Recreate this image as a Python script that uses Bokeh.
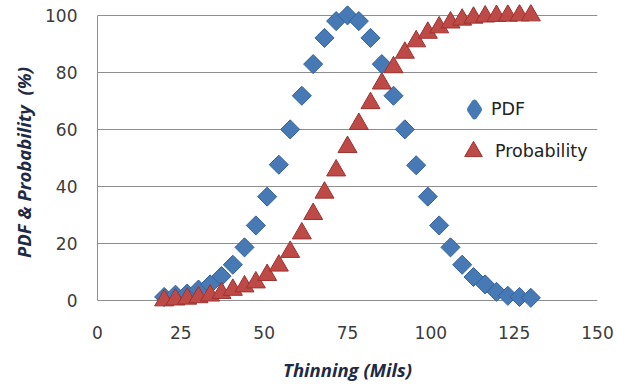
import math
from bokeh.plotting import figure
from bokeh.models import Range1d, FixedTicker, Legend, LegendItem
from bokeh.embed import file_html
from bokeh.resources import INLINE

# ---- data ----
thinning = [20.0, 23.4, 26.9, 30.3, 33.8, 37.2, 40.6, 44.1, 47.5, 50.9, 54.4,
            57.8, 61.3, 64.7, 68.1, 71.6, 75.0, 78.4, 81.9, 85.3, 88.8, 92.2,
            95.6, 99.1, 102.5, 105.9, 109.4, 112.8, 116.3, 119.7, 123.1, 126.6, 130.0]
pdf = [1.2, 2.0, 2.4, 3.8, 5.6, 8.5, 12.5, 18.6, 26.3, 36.4, 47.6,
       60.0, 71.8, 82.9, 92.1, 98.0, 100.0, 98.0, 92.1, 82.9, 71.8, 60.0,
       47.4, 36.4, 26.3, 18.6, 12.5, 8.2, 5.6, 3.0, 1.6, 1.2, 0.9]
probability = [0.0, 0.3, 0.6, 1.1, 1.7, 2.6, 3.7, 4.9, 6.3, 8.9, 12.2,
               17.0, 23.5, 30.3, 37.8, 45.6, 53.8, 61.9, 69.2, 76.1, 81.8, 86.9,
               90.9, 93.9, 95.8, 97.5, 98.5, 99.2, 99.6, 99.8, 99.9, 100.0, 100.0]
x_ticks = [0, 25, 50, 75, 100, 125, 150]
y_ticks = [0, 20, 40, 60, 80, 100]
series_names = ["PDF", "Probability"]

GRID = "#8e8e8e"
TICK_FONT = "DejaVu Sans"
TITLE_FONT = "Open Sans"
TITLE_COLOR = "#1f2a44"
BLUE = "#4779b5"
BLUE_EDGE = "#34639c"
RED = "#bd4a47"
RED_EDGE = "#9c3330"

p = figure(width=617, height=384, output_backend="svg", toolbar_location=None,
           x_range=Range1d(0, 150), y_range=Range1d(-7.06, 103.82),
           min_border_left=97, min_border_right=20, min_border_top=4,
           min_border_bottom=61)
p.outline_line_color = None
p.background_fill_color = "white"
p.border_fill_color = "white"

# axes
p.xaxis.ticker = FixedTicker(ticks=x_ticks)
p.yaxis.ticker = FixedTicker(ticks=y_ticks)
p.xgrid.visible = False
p.ygrid.grid_line_color = GRID
p.ygrid.grid_line_width = 1

for ax in (p.xaxis[0], p.yaxis[0]):
    ax.major_tick_out = 0
    ax.major_tick_in = 0
    ax.minor_tick_out = 0
    ax.minor_tick_in = 0
    ax.major_label_text_font = TICK_FONT
    ax.major_label_text_font_size = "17px"
    ax.major_label_text_color = "#3c3c3c"
    ax.axis_label_text_font = TITLE_FONT
    ax.axis_label_text_font_size = "18.5px"
    ax.axis_label_text_font_style = "bold italic"
    ax.axis_label_text_color = TITLE_COLOR

p.xaxis.axis_line_color = None
p.xaxis.major_label_standoff = 5
p.xaxis.axis_label = "Thinning (Mils)"
p.xaxis.axis_label_standoff = 15

p.yaxis.bounds = (0, 100)
p.yaxis.axis_line_color = GRID
p.yaxis.major_label_standoff = 20
p.yaxis.axis_label = "PDF & Probability \u00a0(%)"
p.yaxis.axis_label_standoff = 6

# series
r_pdf = p.scatter(thinning, pdf, marker="square", angle=math.pi / 4, size=13.5,
                  fill_color=BLUE, line_color=BLUE_EDGE, line_width=1)
r_prob = p.scatter(thinning, probability, marker="triangle", size=19,
                   fill_color=RED, line_color=RED_EDGE, line_width=1)

# legend key for the diamond series (legend keys ignore marker angle),
# same data, not drawn in the plot itself
r_pdf_key = p.scatter(thinning, pdf, marker="diamond", size=12, fill_color=BLUE,
                      line_color=BLUE, line_width=6, line_join="round",
                      visible=False)

leg_pdf = Legend(items=[LegendItem(label=series_names[0], renderers=[r_pdf_key])],
                 location=(360, 194), glyph_width=34, glyph_height=34,
                 label_standoff=0, padding=0, margin=0, spacing=0,
                 background_fill_alpha=0, border_line_alpha=0,
                 label_text_font=TICK_FONT, label_text_font_size="17.5px",
                 label_text_color="#222222")
leg_prob = Legend(items=[LegendItem(label=series_names[1], renderers=[r_prob])],
                  location=(354, 147), glyph_width=44, glyph_height=44,
                  label_standoff=0, padding=0, margin=0, spacing=0,
                  background_fill_alpha=0, border_line_alpha=0,
                  label_text_font=TICK_FONT, label_text_font_size="17.5px",
                  label_text_color="#222222")
p.add_layout(leg_pdf, "center")
p.add_layout(leg_prob, "center")

open("out.html", "w").write(file_html(p, INLINE))
